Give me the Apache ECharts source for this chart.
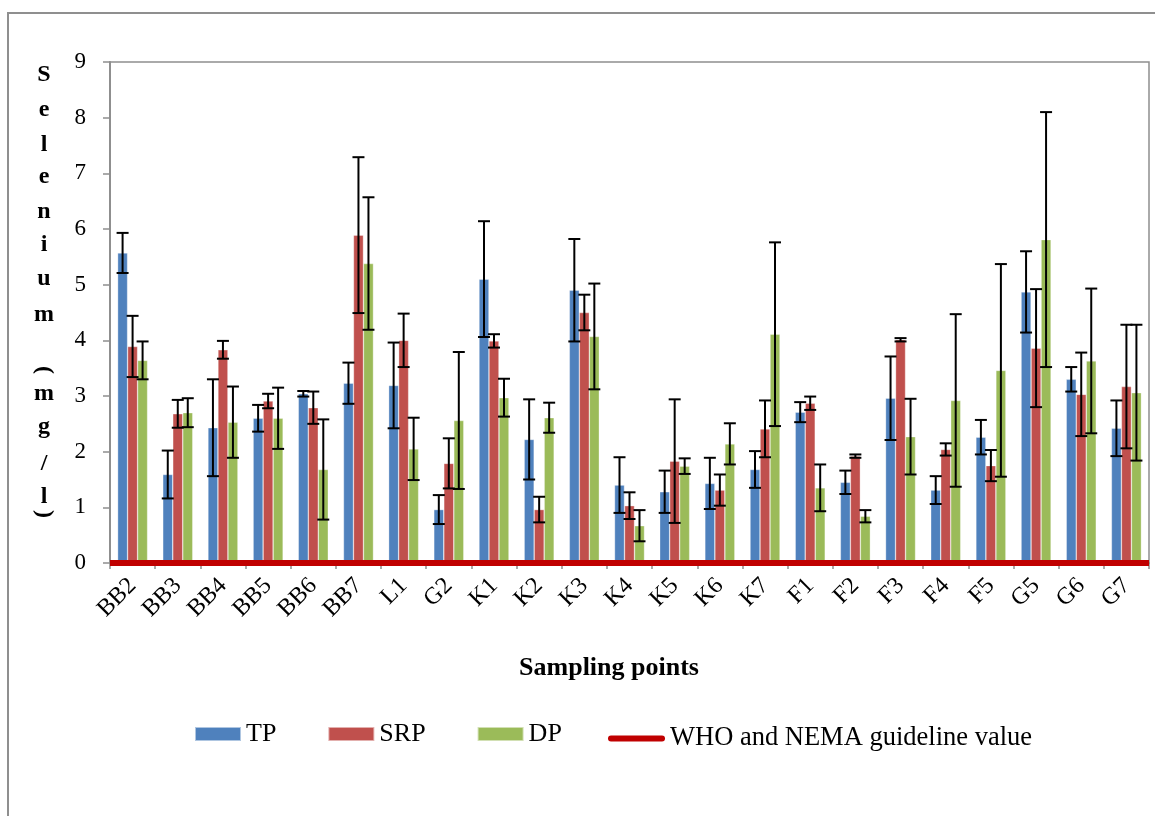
<!DOCTYPE html>
<html>
<head>
<meta charset="utf-8">
<script src="https://cdn.jsdelivr.net/npm/echarts@6/dist/echarts.min.js"></script>
<style>html,body{margin:0;padding:0;background:#fff}#c{width:1155px;height:816px}</style>
</head>
<body>
<div id="c"></div>
<script>
// ---- data ----
const categories = ['BB2','BB3','BB4','BB5','BB6','BB7','L1','G2','K1','K2','K3','K4','K5','K6','K7','F1','F2','F3','F4','F5','G5','G6','G7'];
const tp     = [5.57,1.59,2.43,2.60,3.04,3.23,3.19,0.96,5.10,2.22,4.90,1.40,1.28,1.43,1.68,2.71,1.45,2.96,1.31,2.26,4.87,3.30,2.42];
const tpErr  = [0.36,0.43,0.87,0.24,0.05,0.37,0.77,0.26,1.04,0.72,0.92,0.50,0.38,0.46,0.33,0.18,0.21,0.75,0.25,0.31,0.73,0.22,0.50];
const srp    = [3.89,2.68,3.83,2.91,2.79,5.89,4.00,1.79,3.99,0.96,4.50,1.03,1.83,1.31,2.41,2.87,1.92,4.01,2.04,1.75,3.86,3.03,3.17];
const srpErr = [0.55,0.25,0.16,0.13,0.29,1.40,0.48,0.45,0.12,0.23,0.32,0.24,1.11,0.28,0.51,0.12,0.03,0.03,0.11,0.28,1.06,0.75,1.11];
const dp     = [3.64,2.70,2.53,2.60,1.68,5.38,2.05,2.56,2.97,2.61,4.07,0.67,1.74,2.14,4.11,1.35,0.84,2.27,2.92,3.46,5.81,3.63,3.06];
const dpErr  = [0.34,0.26,0.64,0.55,0.90,1.19,0.56,1.23,0.34,0.27,0.95,0.28,0.14,0.37,1.65,0.42,0.11,0.68,1.55,1.91,2.29,1.30,1.22];
const guideline = [0.01];
const seriesNames = ['TP','SRP','DP'];
const guideName = 'WHO and NEMA guideline value';
const yTitleChars = ['S','e','l','e','n','i','u','m','(','m','g','/','l',')'];
const xTitle = 'Sampling points';

// ---- layout / style ----
const FONT = '"Liberation Serif", "Times New Roman", serif';
const colors = ['#4F81BD','#C0504D','#9BBB59'];
const BAR_W = 10;
const yTitleY = [75,110,145,177,212,245,279,315,370,394,427,464,497,514];

const values = [tp, srp, dp];
const errs = [tpErr, srpErr, dpErr];

const series = [];
values.forEach((v, k) => {
  series.push({
    name: seriesNames[k], type: 'bar', data: v, barWidth: BAR_W, barGap: '0%',
    itemStyle: { color: colors[k], borderColor: 'rgba(255,255,255,0.55)', borderWidth: 0.6 },
    z: 2
  });
});
values.forEach((v, k) => {
  series.push({
    type: 'custom', silent: true, z: 5,
    data: v.map((val, i) => [i, val, errs[k][i]]),
    renderItem: function (params, api) {
      const i = api.value(0), val = api.value(1), e = api.value(2);
      const c = api.coord([i, val]);
      const x = c[0] + (k - 1) * BAR_W;
      const yHi = api.coord([i, val + e])[1];
      const yLo = api.coord([i, val - e])[1];
      const st = { stroke: '#000', lineWidth: 2 };
      return { type: 'group', children: [
        { type: 'line', shape: { x1: x, y1: yHi, x2: x, y2: yLo }, style: st },
        { type: 'line', shape: { x1: x - 6, y1: yHi, x2: x + 6, y2: yHi }, style: st },
        { type: 'line', shape: { x1: x - 6, y1: yLo, x2: x + 6, y2: yLo }, style: st }
      ]};
    }
  });
});
series.push({
  name: guideName, type: 'line', data: [], symbol: 'none', z: 6,
  lineStyle: { color: '#C00000', width: 6 },
  itemStyle: { color: '#C00000' },
  markLine: {
    silent: true, symbol: 'none', label: { show: false },
    lineStyle: { color: '#C00000', width: 6, type: 'solid' },
    data: [{ yAxis: guideline[0] }]
  }
});

const graphics = [
  { type: 'rect', shape: { x: 8, y: 13, width: 1170, height: 830 }, style: { fill: 'none', stroke: '#8f8f8f', lineWidth: 2 }, z: 0 },
  { type: 'text', x: 609, y: 668, style: { text: xTitle, font: 'bold 26px ' + FONT, fill: '#000', align: 'center', verticalAlign: 'middle' } }
];
yTitleChars.forEach((ch, i) => {
  const isParen = ch === '(' || ch === ')';
  graphics.push({
    type: 'text', x: 44, y: yTitleY[i], rotation: isParen ? -Math.PI / 2 : 0,
    style: { text: ch, font: 'bold 24px ' + FONT, fill: '#000', align: 'center', verticalAlign: 'middle' }
  });
});

const chart = echarts.init(document.getElementById('c'));
chart.setOption({
  animation: false,
  backgroundColor: '#fff',
  textStyle: { fontFamily: FONT },
  grid: { left: 110, right: 6, top: 62, bottom: 253, show: true, borderColor: '#8f8f8f', borderWidth: 1.5, containLabel: false },
  legend: [
    { data: seriesNames, left: 194, top: 721, itemWidth: 46, itemHeight: 14, itemGap: 51, padding: 0,
      icon: 'rect', textStyle: { fontSize: 26, color: '#000', fontFamily: FONT }, selectedMode: false },
    { data: [guideName], left: 608, top: 725, itemWidth: 57, itemHeight: 6, padding: 0,
      icon: 'path://M3,0 L54,0 A3,3 0 0 1 54,6 L3,6 A3,3 0 0 1 3,0 Z',
      textStyle: { fontSize: 26.5, color: '#000', fontFamily: FONT }, selectedMode: false }
  ],
  xAxis: {
    type: 'category', data: categories,
    axisLine: { show: true, lineStyle: { color: '#8f8f8f', width: 2 } },
    axisTick: { show: true, alignWithLabel: false, length: 6, lineStyle: { color: '#8f8f8f', width: 1.5 } },
    axisLabel: { rotate: 45, fontSize: 24, color: '#000', fontFamily: FONT, margin: 19, interval: 0 }
  },
  yAxis: {
    type: 'value', min: 0, max: 9, interval: 1,
    splitLine: { show: false },
    axisLine: { show: true, lineStyle: { color: '#8f8f8f', width: 2 } },
    axisTick: { show: true, length: 7, lineStyle: { color: '#8f8f8f', width: 1.5 } },
    axisLabel: { fontSize: 23, color: '#000', fontFamily: FONT, margin: 24 }
  },
  graphic: graphics,
  series: series
});
</script>
</body>
</html>
